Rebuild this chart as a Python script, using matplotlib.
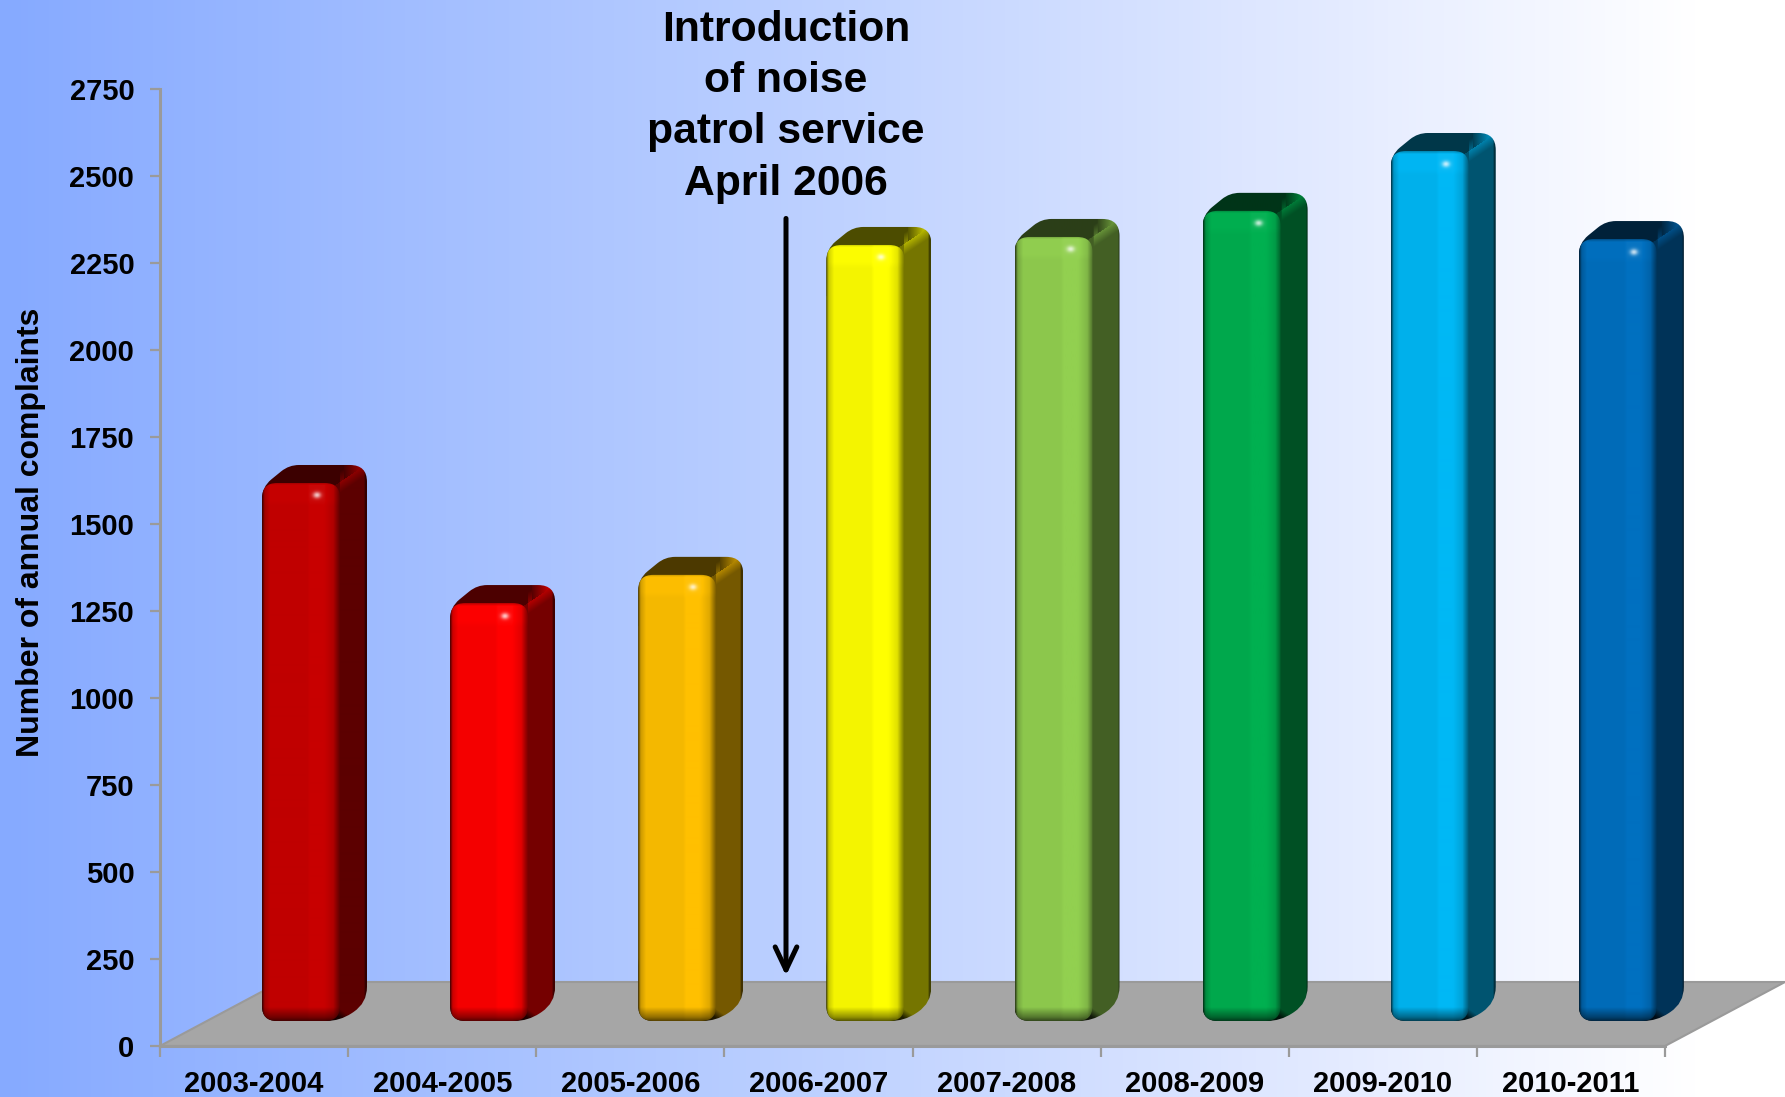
# -*- coding: utf-8 -*-
from matplotlib import pyplot as plt
from matplotlib.patches import PathPatch, Polygon
from matplotlib.path import Path

import numpy as np

seasons = ['2003-2004', '2004-2005', '2005-2006', '2006-2007',
           '2007-2008', '2008-2009', '2009-2010', '2010-2011']
complaints = [1546, 1201, 1282, 2230, 2253, 2328, 2500, 2247]
bar_colors = ['#C80000', '#FF0000', '#FFC000', '#FFFF00',
              '#92D050', '#00B050', '#00B8F5', '#0070C0']
y_ticks = [0, 250, 500, 750, 1000, 1250, 1500, 1750, 2000, 2250, 2500, 2750]
note_lines = ['Introduction', 'of noise', 'patrol service', 'April 2006']

plt.rcParams['font.family'] = ['Liberation Sans', 'DejaVu Sans']
plt.rcParams['font.weight'] = 'bold'

W, H = 1785, 1097
AX_L, AX_R, AX_T, AX_B = 160, 1665, 89, 1046
PX_X = (AX_R - AX_L) / 8
PX_Y = (AX_B - AX_T) / 2750

# sizes of the fake 3d in pixels
BAR_OFF, BAR_W = 102, 78
LIFT, DEPTH_X, DEPTH_Y = 25, 27, 18
FLOOR_X, FLOOR_Y = 120, 64
GRID = '#9a9a9a'


def hex_rgb(c):
    return np.array([int(c[i:i + 2], 16) for i in (1, 3, 5)]) / 255


def shade(rgb, mult):
    # below 1 goes to black, above 1 goes to white
    mult = np.asarray(mult)[..., None]
    return np.where(mult <= 1, rgb * mult, rgb + (1 - rgb) * (mult - 1))


def rounded_path(points, radii):
    # points in data units, rounding done in pixels
    pts = np.array(points, dtype=float) * [PX_X, PX_Y]
    verts, codes = [], []
    n = len(pts)
    for i in range(n):
        p, a, b = pts[i], pts[i - 1], pts[(i + 1) % n]
        r = min(radii[i], np.linalg.norm(a - p) / 2, np.linalg.norm(b - p) / 2)
        start = p + (a - p) / np.linalg.norm(a - p) * r
        end = p + (b - p) / np.linalg.norm(b - p) * r
        verts += [start, p, end]
        codes += [Path.MOVETO if i == 0 else Path.LINETO,
                  Path.CURVE3, Path.CURVE3]
    verts.append(verts[0])
    codes.append(Path.CLOSEPOLY)
    return Path(np.array(verts) / [PX_X, PX_Y], codes)


def add_clipped(ax, image, extent, outline, zorder):
    im = ax.imshow(image, extent=extent, origin='upper', aspect='auto',
                   interpolation='bilinear', zorder=zorder)
    patch = PathPatch(outline, fc='none', ec='none', zorder=zorder)
    ax.add_patch(patch)
    im.set_clip_path(patch)
    # last bar pokes out past the right end of the axis
    im.set_clip_box(ax.figure.bbox)
    patch.set_clip_on(False)


def draw_bar(ax, i, value, color):
    rgb = hex_rgb(color)
    x0 = i + BAR_OFF / PX_X
    x1 = x0 + BAR_W / PX_X
    y0 = LIFT / PX_Y
    y1 = y0 + value
    dx = DEPTH_X / PX_X
    dy = DEPTH_Y / PX_Y
    height = int(value * PX_Y)

    # side and top faces, one image clipped to the outline
    outline = rounded_path([(x0, y1 - 4 / PX_Y), (x0 + dx, y1 + dy),
                            (x1 + dx, y1 + dy), (x1 + dx, y0 + dy),
                            (x1, y0), (x0, y0)],
                           [12, 10, 17, 22, 14, 15])
    h_back, w_back = height + DEPTH_Y, BAR_W + DEPTH_X
    xx, yy = np.meshgrid(np.arange(w_back) - BAR_W + 0.5,
                         np.arange(h_back) - DEPTH_Y + 0.5)
    line = -xx * DEPTH_Y / DEPTH_X
    below = yy - line
    mult = np.where(below > 0, 0.46, 0.3)
    mult = mult + 0.24 * np.clip(1 - np.abs(below) / 11, 0, 1) * (xx > 0)
    mult = np.where((below <= 0) & (xx > 4), 0.34 + 0.025 * (xx - 4), mult)
    mult = mult * np.clip((DEPTH_X - xx) / 3, 0.55, 1)
    foot = height - yy + xx * DEPTH_Y / DEPTH_X
    mult = mult * np.clip(foot / 12, 0.25, 1)
    add_clipped(ax, shade(rgb, mult), (x0, x1 + dx, y0, y1 + dy), outline, 3)

    # front face
    u = np.linspace(0, 1, BAR_W)
    across = np.interp(u, [0, 0.03, 0.10, 0.58, 0.62, 0.80, 0.92, 1],
                       [0.35, 0.8, 0.96, 0.96, 1, 1, 0.88, 0.5])
    v = np.arange(height) + 0.5
    along = np.interp(v, [0, 3, 8, height - 14, height - 4, height],
                      [0.72, 1, 1, 1, 0.6, 0.35])
    mult = np.outer(along, across)
    cap = np.interp(v, [0, 18, 24], [1.03, 1.03, 1])
    mult = mult * cap[:, None]
    xx, yy = np.meshgrid(np.arange(BAR_W) + 0.5, v)
    glow = np.exp(-((xx - 55) ** 2 / 16 + (yy - 13) ** 2 / 10))
    face = shade(rgb, mult)
    face = face + (1 - face) * 0.75 * glow[..., None]
    front = rounded_path([(x0, y1), (x1, y1), (x1, y0), (x0, y0)],
                         [15, 15, 15, 15])
    add_clipped(ax, face, (x0, x1, y0, y1), front, 4)


fig = plt.figure(figsize=(W / 100, H / 100), dpi=100)

# page background
bg = fig.add_axes([0, 0, 1, 1], zorder=0)
ramp_at = [0, 0.45, 0.75, 0.95, 1]
ramp_colors = np.array([hex_rgb(c) for c in
                        ('#86AAFF', '#BCD0FF', '#E4EBFF', '#FFFFFF', '#FFFFFF')])
pos = np.linspace(0, 1, 256)
ramp = np.stack([np.interp(pos, ramp_at, ramp_colors[:, k]) for k in range(3)],
                axis=-1)[None, :, :]
bg.imshow(ramp, aspect='auto')
bg.axis('off')

ax = fig.add_axes([AX_L / W, 1 - AX_B / H, (AX_R - AX_L) / W,
                   (AX_B - AX_T) / H], zorder=1)
ax.patch.set_alpha(0)

# floor
fx, fy = FLOOR_X / PX_X, FLOOR_Y / PX_Y
ax.add_patch(Polygon([(0, 0), (8, 0), (8 + fx, fy), (fx, fy)], closed=True,
                     fc='#A6A6A6', ec=GRID, lw=1.5, clip_on=False, zorder=1))

for i, (value, color) in enumerate(zip(complaints, bar_colors)):
    draw_bar(ax, i, value, color)

ax.set_xlim(0, 8)
ax.set_ylim(0, 2750)

for side in ('top', 'right'):
    ax.spines[side].set_visible(False)
for side in ('left', 'bottom'):
    ax.spines[side].set_color(GRID)
    ax.spines[side].set_linewidth(2.2)
    ax.spines[side].set_zorder(2)

ax.set_yticks(y_ticks)
ax.set_xticks(range(9))
ax.set_xticks([i + 0.5 for i in range(8)], seasons, minor=True)
ax.tick_params(axis='x', which='major', length=8, width=1.6, color=GRID,
               labelbottom=False)
ax.tick_params(axis='x', which='minor', length=0, pad=17, labelsize=21)
ax.tick_params(axis='y', length=7.5, width=1.6, color=GRID, pad=11,
               labelsize=21)
ax.set_ylabel('Number of annual complaints', fontsize=23, fontweight='bold')
ax.yaxis.set_label_coords((46 - AX_L) / (AX_R - AX_L),
                          (AX_B - 532) / (AX_B - AX_T))

# annotation above the arrow
note_x = (786 - AX_L) / PX_X
for line, y_px in zip(note_lines, [30, 81, 132, 184]):
    ax.text(note_x, (AX_B - y_px) / PX_Y, line, ha='center', va='center',
            fontsize=30.7, fontweight='bold', color='black', clip_on=False,
            zorder=6)
ax.annotate('', xy=(note_x, 202), xytext=(note_x, 2378),
            arrowprops=dict(arrowstyle='->,head_length=0.55,head_width=0.26',
                            lw=3.6, color='black', mutation_scale=30,
                            shrinkA=0, shrinkB=0),
            zorder=6)

fig.savefig('out.png', dpi=100)
